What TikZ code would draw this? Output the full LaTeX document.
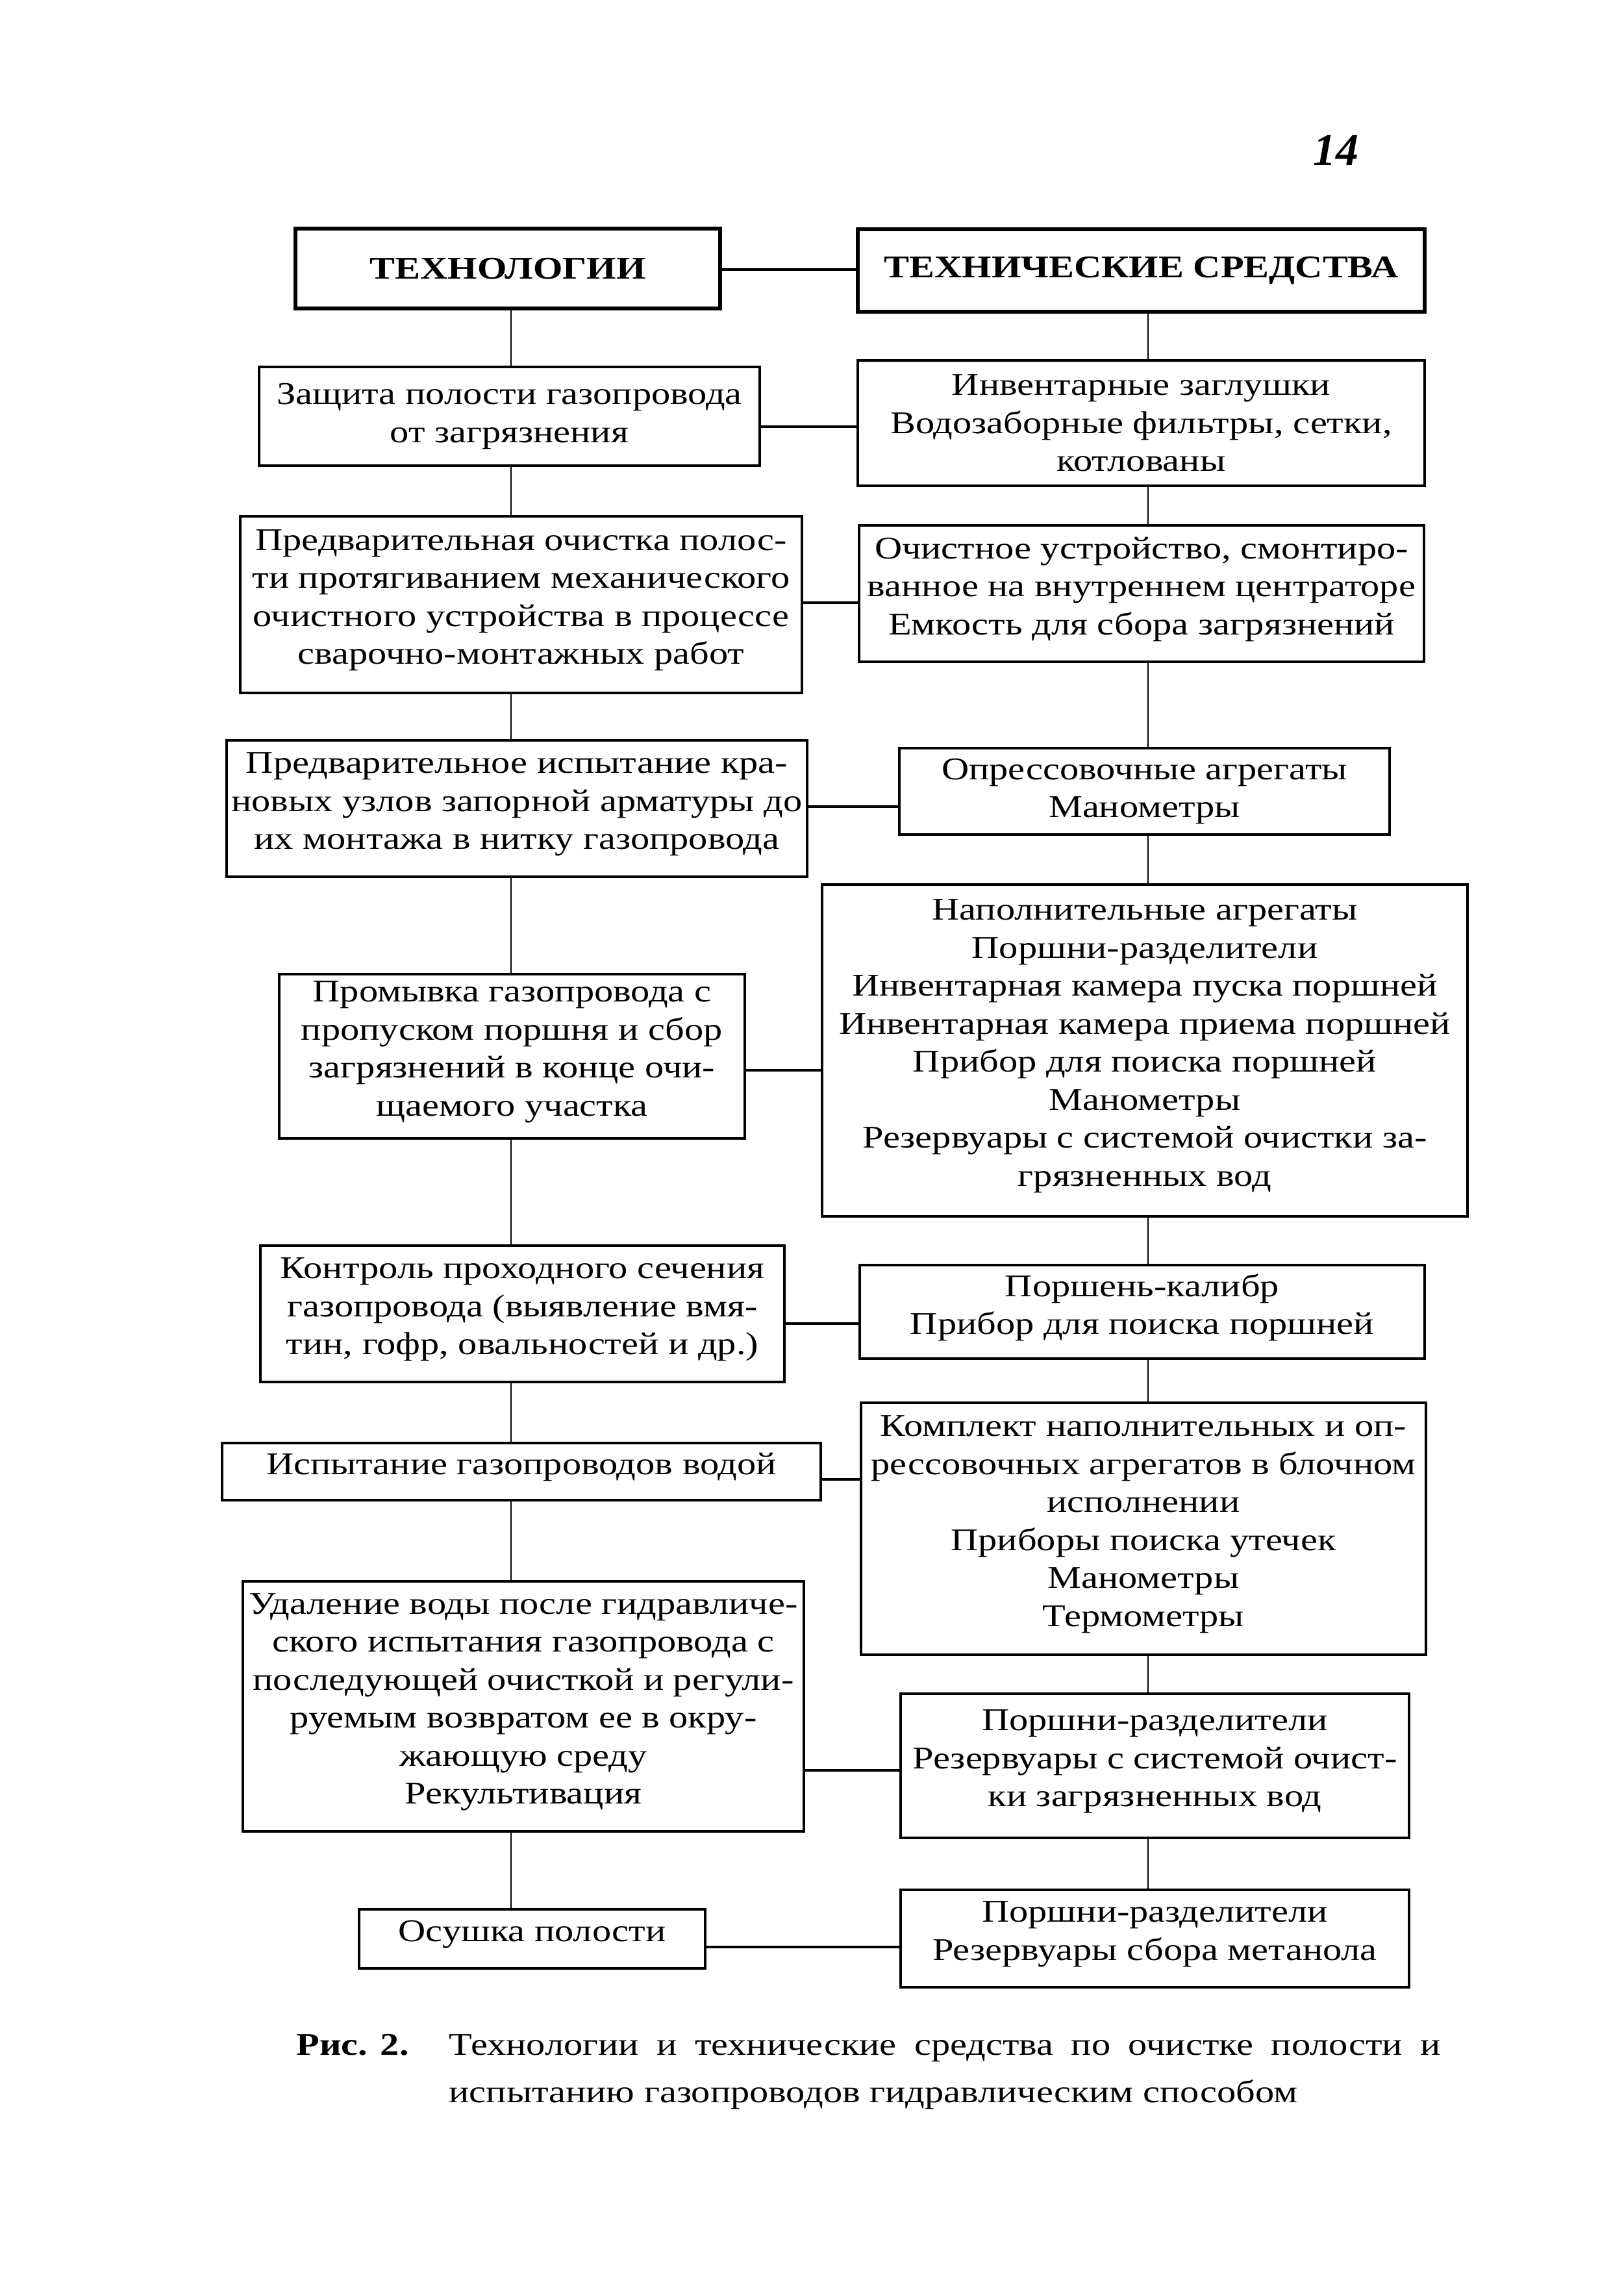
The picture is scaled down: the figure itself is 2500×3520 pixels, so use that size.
\documentclass[tikz,border=0pt]{standalone}
\usepackage{fontspec}
\setmainfont{Liberation Serif}[FakeStretch=1.2]
\newfontfamily\numfont{Liberation Serif}
\newcommand\bodyfont{\fontsize{14.6pt}{17.55pt}\selectfont}
\newcommand\tl{\\[-10.4pt]}
\tikzset{
  bx/.style 2 args={draw, line width=1.3pt, inner sep=0pt, align=center,
    minimum width=#1*0.3pt, minimum height=#2*0.3pt, font=\bodyfont},
  hbx/.style 2 args={bx={#1}{#2}, line width=2pt, font=\bodyfont\bfseries},
  vlink/.style={line width=0.75pt},
  hlink/.style={line width=1.4pt},
  captext/.style={inner sep=0pt, anchor=base west, font=\bodyfont},
}
\begin{document}
\begin{tikzpicture}[x=0.3pt, y=-0.3pt]
\useasboundingbox (0,0) rectangle (2500,3520);
% page number
\node[inner sep=0pt, font=\numfont\fontsize{21pt}{24pt}\selectfont\bfseries\itshape] (pg) at (2057,231) {14};
% headers
\node[hbx={654}{123}] (T) at (782,413.5) {ТЕХНОЛОГИИ};
\node[hbx={873}{127}] (S) at (1757.5,416.5) {ТЕХНИЧЕСКИЕ СРЕДСТВА};
% left column
\node[bx={771}{152}] (L1) at (784.5,641) {Защита полости газопровода\\от загрязнения};
\node[bx={865}{272}] (L2) at (802.5,931) {Предварительная очистка полос-\\ти протягиванием механического\\очистного устройства в процессе\\сварочно-монтажных работ\tl};
\node[bx={894}{210}] (L3) at (796,1245) {Предварительное испытание кра-\\новых узлов запорной арматуры до\\их монтажа в нитку газопровода\tl};
\node[bx={717}{253}] (L4) at (788.5,1626.5) {Промывка газопровода с\\пропуском поршня и сбор\\загрязнений в конце очи-\\щаемого участка\tl};
\node[bx={807}{210}] (L5) at (804.5,2023) {Контроль проходного сечения\\газопровода (выявление вмя-\\тин, гофр, овальностей и др.)\tl};
\node[bx={922}{88}] (L6) at (803,2266) {Испытание газопроводов водой\tl};
\node[bx={864}{385}] (L7) at (806,2627.5) {Удаление воды после гидравличе-\\ского испытания газопровода с\\последующей очисткой и регули-\\руемым возвратом ее в окру-\\жающую среду\\Рекультивация\tl};
\node[bx={533}{91}] (L8) at (819.5,2985.5) {Осушка полости\tl};
% right column
\node[bx={873}{193}] (R1) at (1757.5,651.5) {Инвентарные заглушки\\Водозаборные фильтры, сетки,\\котлованы};
\node[bx={870}{210}] (R2) at (1758,914) {Очистное устройство, смонтиро-\\ванное на внутреннем центраторе\\Емкость для сбора загрязнений\tl};
\node[bx={755}{133}] (R3) at (1762.5,1218.5) {Опрессовочные агрегаты\\Манометры};
\node[bx={994}{511}] (R4) at (1763,1617.5) {Наполнительные агрегаты\\Поршни-разделители\\Инвентарная камера пуска поршней\\Инвентарная камера приема поршней\\Прибор для поиска поршней\\Манометры\\Резервуары с системой очистки за-\\грязненных вод\tl};
\node[bx={870}{144}] (R5) at (1759,2020) {Поршень-калибр\\Прибор для поиска поршней\tl};
\node[bx={870}{388}] (R6) at (1761,2354) {Комплект наполнительных и оп-\\рессовочных агрегатов в блочном\\исполнении\\Приборы поиска утечек\\Манометры\\Термометры\tl};
\node[bx={783}{222}] (R7) at (1778.5,2719) {Поршни-разделители\\Резервуары с системой очист-\\ки загрязненных вод\tl};
\node[bx={783}{150}] (R8) at (1778.5,2985) {Поршни-разделители\\Резервуары сбора метанола\tl};
% caption
\node[captext] (fig) at (456,3164) {\bfseries Рис. 2.};
\node[captext] (cap1) at (691,3164) {\makebox[458.1pt][s]{Технологии и технические средства по очистке полости и}};
\node[captext] (cap2) at (691,3237) {испытанию газопроводов гидравлическим способом};
% helper coordinates
\coordinate (lx) at (787,0);
\coordinate (rx) at (1768,0);
\coordinate (y0) at (0,415);
\coordinate (y1) at (0,657);
\coordinate (y2) at (0,928);
\coordinate (y3) at (0,1242);
\coordinate (y4) at (0,1648);
\coordinate (y5) at (0,2038);
\coordinate (y6) at (0,2278);
\coordinate (y7) at (0,2726);
\coordinate (y8) at (0,2998);
% horizontal links
\draw[hlink] (T.east |- y0) -- (S.west |- y0);
\draw[hlink] (L1.east |- y1) -- (R1.west |- y1);
\draw[hlink] (L2.east |- y2) -- (R2.west |- y2);
\draw[hlink] (L3.east |- y3) -- (R3.west |- y3);
\draw[hlink] (L4.east |- y4) -- (R4.west |- y4);
\draw[hlink] (L5.east |- y5) -- (R5.west |- y5);
\draw[hlink] (L6.east |- y6) -- (R6.west |- y6);
\draw[hlink] (L7.east |- y7) -- (R7.west |- y7);
\draw[hlink] (L8.east |- y8) -- (R8.west |- y8);
% vertical links left
\draw[vlink] (T.south -| lx) -- (L1.north -| lx);
\draw[vlink] (L1.south -| lx) -- (L2.north -| lx);
\draw[vlink] (L2.south -| lx) -- (L3.north -| lx);
\draw[vlink] (L3.south -| lx) -- (L4.north -| lx);
\draw[vlink] (L4.south -| lx) -- (L5.north -| lx);
\draw[vlink] (L5.south -| lx) -- (L6.north -| lx);
\draw[vlink] (L6.south -| lx) -- (L7.north -| lx);
\draw[vlink] (L7.south -| lx) -- (L8.north -| lx);
% vertical links right
\draw[vlink] (S.south -| rx) -- (R1.north -| rx);
\draw[vlink] (R1.south -| rx) -- (R2.north -| rx);
\draw[vlink] (R2.south -| rx) -- (R3.north -| rx);
\draw[vlink] (R3.south -| rx) -- (R4.north -| rx);
\draw[vlink] (R4.south -| rx) -- (R5.north -| rx);
\draw[vlink] (R5.south -| rx) -- (R6.north -| rx);
\draw[vlink] (R6.south -| rx) -- (R7.north -| rx);
\draw[vlink] (R7.south -| rx) -- (R8.north -| rx);
\end{tikzpicture}
\end{document}
